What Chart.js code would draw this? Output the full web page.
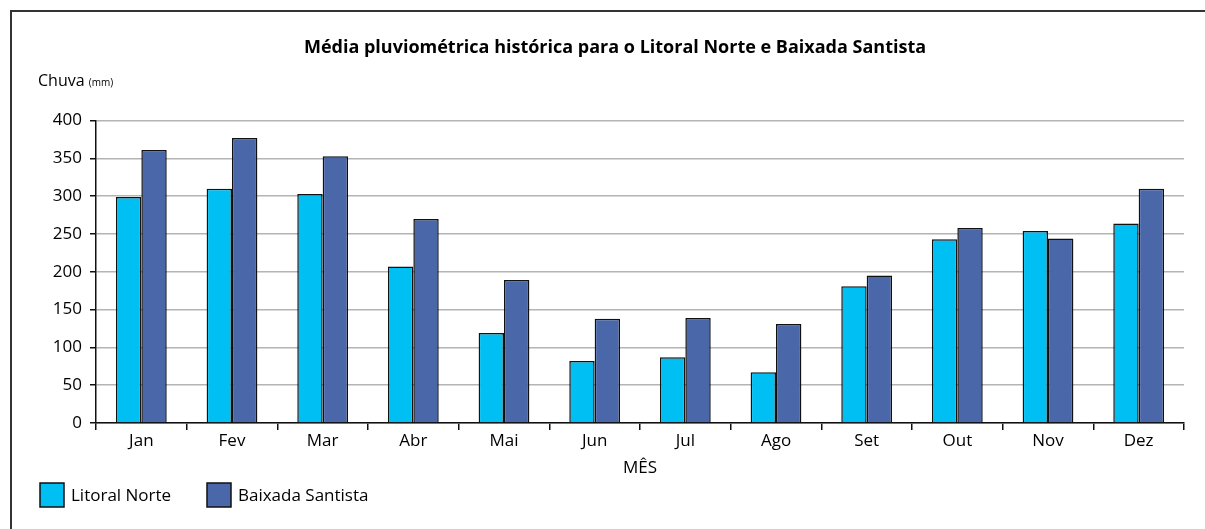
<!DOCTYPE html>
<html lang="pt">
<head>
  <meta charset="UTF-8" />
  <title>Média pluviométrica histórica</title>
  <script src="https://cdn.jsdelivr.net/npm/chart.js"></script>
  <style>
    body { margin: 0; background: #fff; }
    #chart { display: block; }
  </style>
</head>
<body>
  <canvas id="chart" width="1205" height="529"></canvas>

  <script>
    const months = ['Jan', 'Fev', 'Mar', 'Abr', 'Mai', 'Jun', 'Jul', 'Ago', 'Set', 'Out', 'Nov', 'Dez'];
    const litoralNorte = [299, 310, 303, 207, 119, 82, 87, 67, 181, 243, 254, 264];
    const baixadaSantista = [361, 377, 353, 270, 189, 138, 139, 131, 195, 258, 244, 310];
    const yTicks = [0, 50, 100, 150, 200, 250, 300, 350, 400];

    const FONT = "'Open Sans', 'DejaVu Sans', sans-serif";

    // frame, y label and legend drawn by hand
    const extras = {
      id: 'extras',
      beforeDraw(chart) {
        const ctx = chart.ctx;
        ctx.save();
        ctx.strokeStyle = '#333';
        ctx.lineWidth = 2;
        ctx.beginPath();
        ctx.moveTo(1210, 11);
        ctx.lineTo(11, 11);
        ctx.lineTo(11, 535);
        ctx.stroke();
        ctx.restore();
      },
      afterDraw(chart) {
        const ctx = chart.ctx;
        ctx.save();
        ctx.fillStyle = '#000';
        ctx.textBaseline = 'alphabetic';
        ctx.font = '16px ' + FONT;
        ctx.fillText('Chuva', 38, 86);
        const w = ctx.measureText('Chuva ').width;
        ctx.font = '10px ' + FONT;
        ctx.fillText('(mm)', 38 + w, 86);

        // legend
        let x = 40;
        ctx.font = '17px ' + FONT;
        ctx.textBaseline = 'middle';
        chart.data.datasets.forEach(ds => {
          ctx.fillStyle = ds.backgroundColor;
          ctx.fillRect(x, 483, 24, 24);
          ctx.strokeStyle = '#111';
          ctx.lineWidth = 1.5;
          ctx.strokeRect(x, 483, 24, 24);
          ctx.fillStyle = '#000';
          ctx.fillText(ds.label, x + 31, 496);
          x = 207;
        });
        ctx.restore();
      }
    };

    new Chart(document.getElementById('chart'), {
      type: 'bar',
      data: {
        labels: months,
        datasets: [
          {
            label: 'Litoral Norte',
            data: litoralNorte,
            backgroundColor: '#00bff3',
            borderColor: '#111',
            borderWidth: 1.5
          },
          {
            label: 'Baixada Santista',
            data: baixadaSantista,
            backgroundColor: '#4a67aa',
            borderColor: '#111',
            borderWidth: 1.5
          }
        ]
      },
      options: {
        responsive: false,
        animation: false,
        layout: { padding: { left: 46, right: 21, top: 0, bottom: 0 } },
        datasets: {
          bar: { categoryPercentage: 0.56, barPercentage: 1 }
        },
        plugins: {
          legend: { display: false },
          tooltip: { enabled: false },
          title: {
            display: true,
            text: 'Média pluviométrica histórica para o Litoral Norte e Baixada Santista',
            color: '#000',
            font: { family: FONT, size: 18, weight: 'bold' },
            padding: { top: 37, bottom: 62 }
          }
        },
        scales: {
          x: {
            afterFit(scale) { scale.height = 106; },
            border: { color: '#111', width: 1.5 },
            grid: {
              offset: true,
              drawOnChartArea: false,
              drawTicks: true,
              tickLength: 7,
              tickColor: '#111',
              lineWidth: 1.5
            },
            ticks: {
              color: '#000',
              padding: 1,
              font: { family: FONT, size: 17 }
            },
            title: {
              display: true,
              text: 'MÊS',
              color: '#000',
              font: { family: FONT, size: 17 },
              padding: { top: 0, bottom: 51 }
            }
          },
          y: {
            min: 0,
            max: 400,
            afterFit(scale) { scale.width = 50; },
            afterBuildTicks(scale) { scale.ticks = yTicks.map(v => ({ value: v })); },
            border: { color: '#111', width: 1.5 },
            grid: {
              color: '#b4b4b4',
              lineWidth: 1.5,
              tickLength: 6,
              tickColor: '#111'
            },
            ticks: {
              color: '#000',
              padding: 8,
              font: { family: FONT, size: 17 }
            }
          }
        }
      },
      plugins: [extras]
    });
  </script>
</body>
</html>
